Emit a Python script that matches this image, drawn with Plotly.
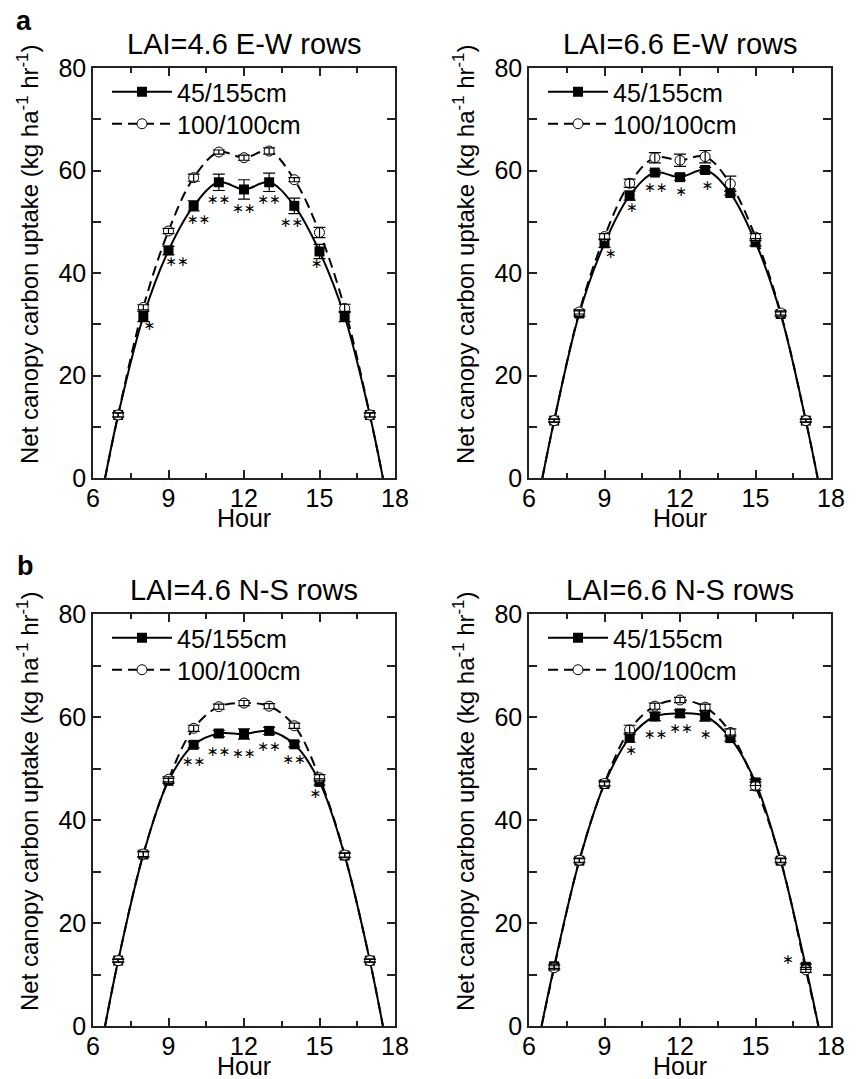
import plotly.graph_objects as go

# page body has an 8px margin: size the figure so it fills the 858x1079 window
OFF = 8
FW, FH = 858 - OFF, 1079 - OFF

# ---------------- data ----------------
hours = [7, 8, 9, 10, 11, 12, 13, 14, 15, 16, 17]
series_names = ["45/155cm", "100/100cm"]
panel_titles = ["LAI=4.6 E-W rows", "LAI=6.6 E-W rows",
                "LAI=4.6 N-S rows", "LAI=6.6 N-S rows"]

# LAI=4.6 E-W rows
ew46_a = [12.3, 31.5, 44.4, 53.1, 57.7, 56.3, 57.7, 53.1, 44.2, 31.5, 12.3]
ew46_a_err = [0.4, 1.0, 0.8, 1.0, 1.6, 1.9, 1.8, 1.5, 1.4, 1.0, 0.4]
ew46_b = [12.3, 33.3, 48.2, 58.6, 63.6, 62.5, 63.8, 58.2, 47.9, 33.1, 12.3]
ew46_b_err = [0.4, 0.5, 0.5, 0.7, 0.4, 0.5, 0.6, 0.4, 1.0, 0.8, 0.4]
ew46_zero = [6.48, 17.52]
ew46_star_x = [8.25, 9.35, 10.2, 11.0, 12.0, 13.0, 13.9, 14.9]
ew46_star_y = [29.5, 42.0, 50.2, 54.1, 52.4, 54.1, 49.7, 41.7]
ew46_star_t = ["∗", "∗∗", "∗∗", "∗∗", "∗∗", "∗∗", "∗∗", "∗"]

# LAI=6.6 E-W rows
ew66_a = [11.2, 32.1, 45.8, 55.1, 59.6, 58.7, 60.1, 55.6, 46.0, 32.0, 11.2]
ew66_a_err = [0.3, 0.5, 0.8, 0.9, 0.4, 0.6, 0.5, 0.4, 0.7, 0.4, 0.3]
ew66_b = [11.2, 32.4, 47.1, 57.5, 62.5, 62.0, 62.7, 57.4, 47.0, 32.2, 11.2]
ew66_b_err = [0.3, 0.4, 0.6, 0.8, 1.0, 1.2, 1.2, 1.5, 0.7, 0.4, 0.3]
ew66_zero = [6.53, 17.47]
ew66_star_x = [9.25, 10.1, 11.05, 12.05, 13.1]
ew66_star_y = [43.6, 52.6, 56.5, 55.7, 56.8]
ew66_star_t = ["∗", "∗", "∗∗", "∗", "∗"]

# LAI=4.6 N-S rows
ns46_a = [12.7, 33.3, 47.6, 54.6, 56.8, 56.7, 57.3, 54.7, 47.4, 33.1, 12.7]
ns46_a_err = [0.3, 0.5, 0.5, 0.6, 0.6, 1.0, 0.7, 0.5, 0.6, 0.4, 0.3]
ns46_b = [12.7, 33.4, 47.9, 57.8, 62.0, 62.7, 62.1, 58.3, 48.2, 33.2, 12.7]
ns46_b_err = [0.3, 0.5, 0.5, 0.6, 0.5, 0.5, 0.5, 0.5, 0.6, 0.4, 0.3]
ns46_zero = [6.48, 17.52]
ns46_star_x = [10.0, 11.0, 12.0, 13.0, 14.0, 14.85]
ns46_star_y = [51.2, 53.1, 52.8, 54.0, 51.5, 45.0]
ns46_star_t = ["∗∗", "∗∗", "∗∗", "∗∗", "∗∗", "∗"]

# LAI=6.6 N-S rows
ns66_a = [11.6, 32.1, 47.0, 56.0, 60.1, 60.7, 60.2, 55.9, 47.3, 32.1, 11.5]
ns66_a_err = [0.4, 0.4, 0.4, 0.9, 0.8, 0.7, 1.0, 0.6, 0.6, 0.4, 0.5]
ns66_b = [11.3, 32.2, 47.1, 57.5, 62.1, 63.3, 61.9, 57.0, 46.6, 32.2, 10.9]
ns66_b_err = [0.4, 0.4, 0.5, 0.9, 0.6, 0.5, 0.6, 0.7, 0.8, 0.4, 0.5]
ns66_zero = [6.5, 17.5]
ns66_star_x = [10.07, 11.04, 12.05, 13.03, 16.3]
ns66_star_y = [53.3, 56.4, 57.5, 56.4, 12.8]
ns66_star_t = ["∗", "∗∗", "∗∗", "∗", "∗"]

panels = [
    (ew46_a, ew46_a_err, ew46_b, ew46_b_err, ew46_zero, ew46_star_x, ew46_star_y, ew46_star_t),
    (ew66_a, ew66_a_err, ew66_b, ew66_b_err, ew66_zero, ew66_star_x, ew66_star_y, ew66_star_t),
    (ns46_a, ns46_a_err, ns46_b, ns46_b_err, ns46_zero, ns46_star_x, ns46_star_y, ns46_star_t),
    (ns66_a, ns66_a_err, ns66_b, ns66_b_err, ns66_zero, ns66_star_x, ns66_star_y, ns66_star_t),
]

# ---------------- layout helpers ----------------
FONT = "Liberation Sans, Arial, sans-serif"
AX = "#222222"
DASH = "10px,6px"


def px(x):
    """window pixel x -> paper fraction"""
    return (x - OFF) / FW


def py(y):
    """window pixel y -> paper fraction"""
    return 1 - (y - OFF) / FH


x_doms = [(93, 395), (529, 831)]
y_doms = [(68, 478), (614, 1026)]

fig = go.Figure()
layout = {}
annotations = []

for i, (a, a_err, b, b_err, zero, sx, sy, st) in enumerate(panels):
    row, col = divmod(i, 2)
    sfx = "" if i == 0 else str(i + 1)
    xa, ya = "x" + sfx, "y" + sfx
    leg_a = "legend" + ("" if i == 0 else str(2 * i + 1))
    leg_b = "legend" + str(2 * i + 2)

    curve_x = [zero[0]] + hours + [zero[1]]
    # smooth fitted curves
    fig.add_trace(go.Scatter(x=curve_x, y=[0] + b + [0], mode="lines",
                             line=dict(color="black", width=2, dash=DASH,
                                       shape="spline", smoothing=1.0),
                             xaxis=xa, yaxis=ya, showlegend=False, hoverinfo="skip"))
    fig.add_trace(go.Scatter(x=curve_x, y=[0] + a + [0], mode="lines",
                             line=dict(color="black", width=2,
                                       shape="spline", smoothing=1.0),
                             xaxis=xa, yaxis=ya, showlegend=False, hoverinfo="skip"))
    # points
    fig.add_trace(go.Scatter(x=hours, y=a, mode="markers",
                             marker=dict(symbol="square", size=10, color="black",
                                         line=dict(color="black", width=0)),
                             xaxis=xa, yaxis=ya, showlegend=False, name=series_names[0]))
    fig.add_trace(go.Scatter(x=hours, y=b, mode="markers",
                             marker=dict(symbol="circle", size=10, color="white",
                                         line=dict(color="black", width=1)),
                             xaxis=xa, yaxis=ya, showlegend=False, name=series_names[1]))
    # error bars drawn on top of the markers
    for vals, errs in ((a, a_err), (b, b_err)):
        fig.add_trace(go.Scatter(x=hours, y=vals, mode="markers",
                                 marker=dict(size=1, opacity=0),
                                 error_y=dict(type="data", array=errs, color="black",
                                              thickness=1.2, width=6),
                                 xaxis=xa, yaxis=ya, showlegend=False, hoverinfo="skip"))
    # significance asterisks
    fig.add_trace(go.Scatter(x=sx, y=sy, mode="text", text=st,
                             textfont=dict(family="DejaVu Sans", size=14, color="black"),
                             textposition="middle center",
                             xaxis=xa, yaxis=ya, showlegend=False, hoverinfo="skip"))
    # legend entries (one legend per row for exact placement)
    fig.add_trace(go.Scatter(x=[None], y=[None], mode="lines+markers", name=series_names[0],
                             line=dict(color="black", width=2),
                             marker=dict(symbol="square", size=10, color="black"),
                             xaxis=xa, yaxis=ya, legend=leg_a))
    fig.add_trace(go.Scatter(x=[None], y=[None], mode="lines+markers", name=series_names[1],
                             line=dict(color="black", width=2, dash=DASH),
                             marker=dict(symbol="circle", size=10, color="white",
                                         line=dict(color="black", width=1)),
                             xaxis=xa, yaxis=ya, legend=leg_b))

    x0, x1 = x_doms[col]
    y0, y1 = y_doms[row]
    common = dict(showgrid=False, zeroline=False, showline=True, linecolor=AX,
                  linewidth=1.5, mirror="ticks", ticks="inside", tickcolor=AX,
                  tickwidth=1.5, automargin=False,
                  tickfont=dict(family=FONT, size=25, color="black"))
    layout["xaxis" + sfx] = dict(common, domain=[px(x0), px(x1)], range=[6, 18],
                                 tickmode="linear", tick0=6, dtick=3, ticklen=8,
                                 ticklabelstandoff=-3,
                                 minor=dict(ticks="inside", dtick=1.5, tick0=6,
                                            ticklen=5, tickcolor=AX, tickwidth=1.5),
                                 anchor=ya)
    layout["yaxis" + sfx] = dict(common, domain=[py(y1), py(y0)], range=[0, 80],
                                 tickmode="linear", tick0=0, dtick=20, ticklen=8,
                                 minor=dict(ticks="inside", dtick=10, tick0=0,
                                            ticklen=8, tickcolor=AX, tickwidth=1.5),
                                 anchor=xa)
    for leg, dy in ((leg_a, 24), (leg_b, 56)):
        layout[leg] = dict(x=px(x0 + 14), y=py(y0 + dy), xanchor="left", yanchor="middle",
                           bgcolor="rgba(0,0,0,0)", borderwidth=0, itemwidth=60,
                           font=dict(family=FONT, size=25, color="black"),
                           tracegroupgap=0)

    # panel title
    annotations.append(dict(x=px((x0 + x1) / 2), y=py(y0 - 24), xref="paper", yref="paper",
                            text=panel_titles[i], showarrow=False,
                            font=dict(family=FONT, size=29, color="black"),
                            xanchor="center", yanchor="middle"))
    # x title
    annotations.append(dict(x=px((x0 + x1) / 2), y=py(y1 + 40), xref="paper", yref="paper",
                            text="Hour", showarrow=False,
                            font=dict(family=FONT, size=25, color="black"),
                            xanchor="center", yanchor="middle"))
    # y title
    annotations.append(dict(x=px(x0 - 65), y=py((y0 + y1) / 2 - 18), xref="paper", yref="paper",
                            text="Net canopy carbon uptake (kg ha<sup>-1</sup> hr<sup>-1</sup>)",
                            textangle=-90, showarrow=False,
                            font=dict(family=FONT, size=24, color="black"),
                            xanchor="center", yanchor="middle"))

annotations.append(dict(x=px(24), y=py(21), xref="paper", yref="paper", text="<b>a</b>",
                        showarrow=False, font=dict(family=FONT, size=27, color="black"),
                        xanchor="center", yanchor="middle"))
annotations.append(dict(x=px(25), y=py(566), xref="paper", yref="paper", text="<b>b</b>",
                        showarrow=False, font=dict(family=FONT, size=27, color="black"),
                        xanchor="center", yanchor="middle"))

fig.update_layout(width=FW, height=FH, margin=dict(l=0, r=0, t=0, b=0),
                  paper_bgcolor="white", plot_bgcolor="white",
                  annotations=annotations, **layout)

fig.write_html("out.html")
